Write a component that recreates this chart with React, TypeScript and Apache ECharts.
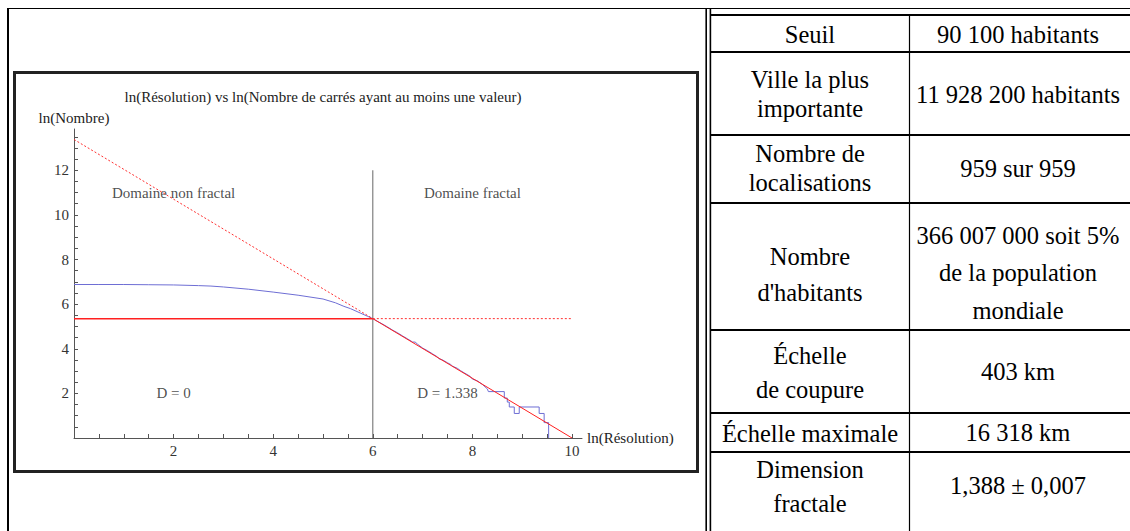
import React, { useEffect, useRef } from 'react';
import * as echarts from 'echarts';

// ---- data ----
const resolution = [
  0, 0.5, 1, 1.5, 2, 2.5, 2.75, 3, 3.5, 4, 4.5, 5, 5.25, 5.42, 5.55, 5.76, 5.9, 6,
  6.1, 6.2, 6.3, 6.4, 6.5, 6.6, 6.7, 6.8, 6.85, 6.9, 7.0, 7.1, 7.2, 7.3, 7.33, 7.4, 7.5,
  7.56, 7.6, 7.7, 7.76, 7.85, 7.95, 8.0, 8.1, 8.2, 8.3, 8.32, 8.64, 8.64, 8.7, 8.7, 8.74,
  8.74, 8.84, 8.84, 8.94, 8.94, 9.34, 9.34, 9.44, 9.44, 9.53, 9.53,
];
const lnCount = [
  6.88, 6.88, 6.88, 6.87, 6.86, 6.83, 6.81, 6.77, 6.67, 6.54, 6.4, 6.23, 6.06, 5.9, 5.8, 5.59, 5.45, 5.35,
  5.22, 5.1, 4.97, 4.83, 4.71, 4.57, 4.44, 4.3, 4.3, 4.2, 4.03, 3.91, 3.77, 3.63, 3.55, 3.5, 3.37,
  3.3, 3.22, 3.12, 3.02, 2.9, 2.77, 2.64, 2.56, 2.4, 2.2, 2.08, 2.08, 1.79, 1.79, 1.61, 1.61,
  1.39, 1.39, 1.1, 1.1, 1.39, 1.39, 1.1, 1.1, 0.69, 0.69, 0,
];

const fitDashedX = [0, 6];
const fitDashedY = [13.38, 5.35];
const fitSolidX = [6, 10];
const fitSolidY = [5.35, 0];
const levelSolidX = [0, 6];
const levelDashedX = [6, 10];
const levelY = 5.35;
const cutoffX = 6;
const cutoffY = [0, 12];

const annotationTexts = ['Domaine non fractal', 'Domaine fractal', 'D = 0', 'D = 1.338'];
const annotationX = [2, 8, 2, 7.5];
const annotationY = [11, 11, 2, 2];

const xTickValues = [0.5, 1, 1.5, 2, 2.5, 3, 3.5, 4, 4.5, 5, 5.5, 6, 6.5, 7, 7.5, 8, 8.5, 9, 9.5, 10];
const xLabelValues = [2, 4, 6, 8, 10];
const yTickValues = [0.5, 1, 1.5, 2, 2.5, 3, 3.5, 4, 4.5, 5, 5.5, 6, 6.5, 7, 7.5, 8, 8.5, 9, 9.5, 10, 10.5, 11, 11.5, 12, 12.5, 13, 13.5];
const yLabelValues = [2, 4, 6, 8, 10, 12];

const chartTitle = 'ln(Résolution) vs ln(Nombre de carrés ayant au moins une valeur)';
const xName = 'ln(Résolution)';
const yName = 'ln(Nombre)';

// table
const tableLeftLines = [
  ['Seuil'],
  ['Ville la plus', 'importante'],
  ['Nombre de', 'localisations'],
  ['Nombre', "d'habitants"],
  ['Échelle', 'de coupure'],
  ['Échelle maximale'],
  ['Dimension', 'fractale'],
];
const tableRightLines = [
  ['90 100 habitants'],
  ['11 928 200 habitants'],
  ['959 sur 959'],
  ['366 007 000 soit 5%', 'de la population', 'mondiale'],
  ['403 km'],
  ['16 318 km'],
  ['1,388 ± 0,007'],
];
const tableLeftY = [[34], [79, 108], [153, 182], [256, 292], [355, 389], [433], [469, 503]];
const tableRightY = [[34], [94], [168], [235, 272, 310], [371], [432], [485]];
const tableRowLines = [15, 52, 135, 203, 330, 413, 452];

const SERIF = 'Liberation Serif';

export default function App() {
  const ref = useRef<HTMLDivElement>(null);
  useEffect(() => {
    if (!ref.current) return;
    const chart = echarts.init(ref.current, undefined, { renderer: 'svg' });

    const graphic: any[] = [];
    // outer frame
    graphic.push({ type: 'line', shape: { x1: 7, y1: 8.5, x2: 1130, y2: 8.5 }, style: { stroke: '#000', lineWidth: 1.2 }, silent: true });
    graphic.push({ type: 'line', shape: { x1: 8, y1: 8, x2: 8, y2: 531 }, style: { stroke: '#000', lineWidth: 2 }, silent: true });
    graphic.push({ type: 'line', shape: { x1: 706.2, y1: 8, x2: 706.2, y2: 531 }, style: { stroke: '#000', lineWidth: 1.6 }, silent: true });
    graphic.push({ type: 'line', shape: { x1: 710.4, y1: 8, x2: 710.4, y2: 531 }, style: { stroke: '#000', lineWidth: 1.6 }, silent: true });
    // chart box
    graphic.push({ type: 'rect', shape: { x: 14.5, y: 72.5, width: 683, height: 399 }, style: { fill: 'none', stroke: '#222', lineWidth: 3 }, silent: true });
    // title
    graphic.push({ type: 'text', x: 323, y: 97, style: { text: chartTitle, fontSize: 15, fontFamily: SERIF, fill: '#222', textAlign: 'center', textVerticalAlign: 'middle' }, silent: true });
    // table lines
    tableRowLines.forEach((y) => {
      graphic.push({ type: 'line', shape: { x1: 711, y1: y, x2: 1130, y2: y }, style: { stroke: '#000', lineWidth: 2 }, silent: true });
    });
    graphic.push({ type: 'line', shape: { x1: 909.5, y1: 15, x2: 909.5, y2: 531 }, style: { stroke: '#000', lineWidth: 1.2 }, silent: true });
    tableLeftLines.forEach((lines, i) => {
      lines.forEach((t, j) => {
        graphic.push({ type: 'text', x: 810, y: tableLeftY[i][j], style: { text: t, fontSize: 24.5, fontFamily: SERIF, fill: '#000', textAlign: 'center', textVerticalAlign: 'middle' }, silent: true });
      });
    });
    tableRightLines.forEach((lines, i) => {
      lines.forEach((t, j) => {
        graphic.push({ type: 'text', x: 1018, y: tableRightY[i][j], style: { text: t, fontSize: 24.5, fontFamily: SERIF, fill: '#000', textAlign: 'center', textVerticalAlign: 'middle' }, silent: true });
      });
    });

    const blue = resolution.map((x, i) => [x, lnCount[i]]);

    chart.setOption({
      animation: false,
      backgroundColor: '#fff',
      textStyle: { fontFamily: SERIF },
      grid: { left: 74, top: 129, width: 508, height: 309, containLabel: false },
      xAxis: {
        type: 'value',
        min: 0,
        max: 10.2,
        name: xName,
        nameLocation: 'end',
        nameGap: 5,
        nameTextStyle: { fontSize: 15, color: '#222', fontFamily: SERIF, align: 'left', verticalAlign: 'middle' },
        splitLine: { show: false },
        axisLine: { show: true, onZero: false, lineStyle: { color: '#555', width: 1 } },
        axisTick: { show: true, inside: true, length: 4, customValues: xTickValues, lineStyle: { color: '#555' } },
        axisLabel: { show: true, customValues: xLabelValues, fontSize: 15, color: '#333', fontFamily: SERIF, margin: 5 },
      },
      yAxis: {
        type: 'value',
        min: 0,
        max: 13.85,
        name: yName,
        nameLocation: 'end',
        nameGap: 4,
        nameTextStyle: { fontSize: 15, color: '#222', fontFamily: SERIF },
        splitLine: { show: false },
        axisLine: { show: true, onZero: false, lineStyle: { color: '#555', width: 1 } },
        axisTick: { show: true, inside: true, length: 4, customValues: yTickValues, lineStyle: { color: '#555' } },
        axisLabel: { show: true, customValues: yLabelValues, fontSize: 15, color: '#333', fontFamily: SERIF, margin: 5 },
      },
      series: [
        {
          type: 'line', data: [[cutoffX, cutoffY[0]], [cutoffX, cutoffY[1]]], symbol: 'none',
          lineStyle: { color: '#666', width: 1 }, silent: true, z: 2,
        },
        {
          type: 'line', data: blue, symbol: 'none',
          lineStyle: { color: '#6e6ed4', width: 1 }, silent: true, z: 3,
        },
        {
          type: 'line', data: fitDashedX.map((x, i) => [x, fitDashedY[i]]), symbol: 'none',
          lineStyle: { color: '#ff3030', width: 1, type: [2, 2] }, silent: true, z: 4,
        },
        {
          type: 'line', data: fitSolidX.map((x, i) => [x, fitSolidY[i]]), symbol: 'none',
          lineStyle: { color: '#ff2020', width: 1 }, silent: true, z: 4,
        },
        {
          type: 'line', data: levelSolidX.map((x) => [x, levelY]), symbol: 'none',
          lineStyle: { color: '#ff2020', width: 1.5 }, silent: true, z: 4,
        },
        {
          type: 'line', data: levelDashedX.map((x) => [x, levelY]), symbol: 'none',
          lineStyle: { color: '#ff3030', width: 1, type: [2, 2] }, silent: true, z: 4,
        },
        {
          type: 'scatter', symbolSize: 0, silent: true, z: 5,
          data: annotationTexts.map((t, i) => ({ name: t, value: [annotationX[i], annotationY[i]] })),
          label: { show: true, position: 'inside', formatter: (p: any) => p.name, fontSize: 15, color: '#222', fontFamily: SERIF },
        },
      ],
      graphic,
    });
    return () => chart.dispose();
  }, []);
  return <div ref={ref} style={{ position: 'absolute', left: 0, top: 0, width: 1130, height: 531 }} />;
}
